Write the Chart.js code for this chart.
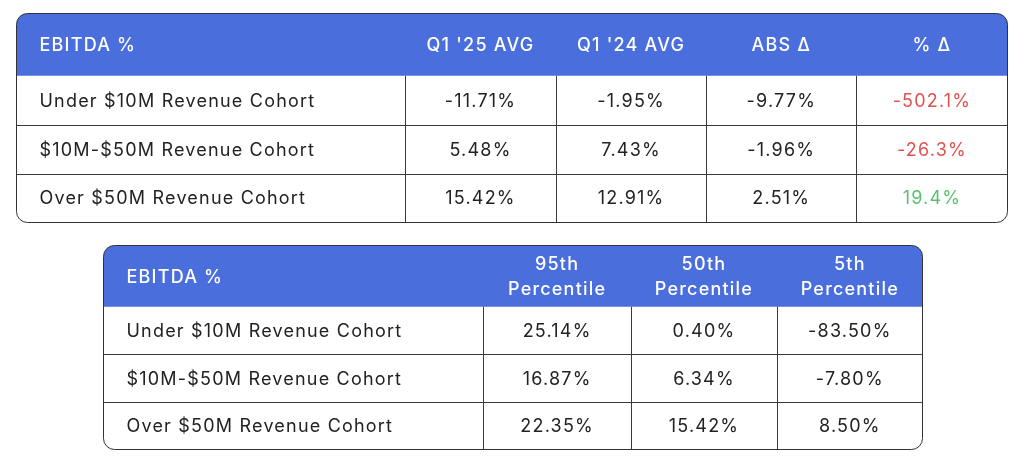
<!DOCTYPE html>
<html><head><meta charset="utf-8">
<script src="https://cdn.jsdelivr.net/npm/chart.js@4"></script>
<style>
html,body{margin:0;background:#fff;width:1024px;height:464px;overflow:hidden}
.w{position:absolute}
</style></head><body>
<div class="w" id="w1" style="left:16px;top:13px;width:992px;height:210px"><canvas id="c1"></canvas></div>
<div class="w" id="w2" style="left:103px;top:245px;width:820px;height:205px"><canvas id="c2"></canvas></div>
<script>
// Table 1
const t1Columns = ["EBITDA %", "Q1 '25 AVG", "Q1 '24 AVG", "ABS Δ", "% Δ"];
const t1Rows = ["Under $10M Revenue Cohort", "$10M-$50M Revenue Cohort", "Over $50M Revenue Cohort"];
const t1Q125 = ["-11.71%", "5.48%", "15.42%"];
const t1Q124 = ["-1.95%", "7.43%", "12.91%"];
const t1Abs = ["-9.77%", "-1.96%", "2.51%"];
const t1Pct = ["-502.1%", "-26.3%", "19.4%"];
// Table 2
const t2Columns = ["EBITDA %", "95th\nPercentile", "50th\nPercentile", "5th\nPercentile"];
const t2Rows = ["Under $10M Revenue Cohort", "$10M-$50M Revenue Cohort", "Over $50M Revenue Cohort"];
const t2P95 = ["25.14%", "16.87%", "22.35%"];
const t2P50 = ["0.40%", "6.34%", "15.42%"];
const t2P5 = ["-83.50%", "-7.80%", "8.50%"];

const BLUE = "#4a6edc", FONT = "Inter, 'Open Sans', sans-serif";

const tablePlugin = {
  id: 'tablePlugin',
  afterDraw(chart) {
    const o = chart.options.plugins.tablePlugin;
    const ctx = chart.ctx, a = chart.chartArea, ys = chart.scales.y;
    const L = a.left + 0.5, R = a.right - 0.5, T = a.top + 0.5, B = a.bottom - 0.5;
    const nRows = ys.ticks.length;
    const hb = T + (B - T) * o.headerFrac;
    const rh = (B - hb) / nRows;
    const rowTop = i => i === 0 ? T : hb + (i - 1) * rh;
    const rowBot = i => i === 0 ? hb : hb + i * rh;
    const n = nRows + 1;
    const tw = o.weights.reduce((s, v) => s + v, 0);
    const edges = [L]; let acc = 0;
    o.weights.forEach(w => { acc += w; edges.push(L + (R - L) * acc / tw); });
    const rad = 11;
    ctx.save();
    ctx.beginPath();
    ctx.moveTo(L, hb); ctx.lineTo(L, T + rad); ctx.arcTo(L, T, L + rad, T, rad);
    ctx.lineTo(R - rad, T); ctx.arcTo(R, T, R, T + rad, rad); ctx.lineTo(R, hb); ctx.closePath();
    ctx.fillStyle = BLUE; ctx.fill();
    ctx.strokeStyle = "#3a3a3a"; ctx.lineWidth = 1;
    for (let i = 1; i < n - 1; i++) { const y = Math.round(rowBot(i)) + 0.5; ctx.beginPath(); ctx.moveTo(L, y); ctx.lineTo(R, y); ctx.stroke(); }
    for (let j = 1; j < edges.length - 1; j++) { const x = Math.round(edges[j]) + 0.5; ctx.beginPath(); ctx.moveTo(x, hb); ctx.lineTo(x, B); ctx.stroke(); }
    ctx.beginPath();
    ctx.moveTo(L + rad, T); ctx.arcTo(R, T, R, B, rad); ctx.arcTo(R, B, L, B, rad);
    ctx.arcTo(L, B, L, T, rad); ctx.arcTo(L, T, R, T, rad); ctx.closePath();
    ctx.strokeStyle = "#333"; ctx.stroke();
    ctx.textBaseline = "middle";
    ctx.letterSpacing = "1.2px";
    for (let i = 0; i < n; i++) {
      const cy = (rowTop(i) + rowBot(i)) / 2;
      o.cells[i].forEach((txt, j) => {
        const lines = String(txt).split("\n");
        ctx.font = (i === 0 ? "500 " : "400 ") + o.size + "px " + FONT;
        ctx.fillStyle = i === 0 ? "#fff" : (o.colors && o.colors[i] && o.colors[i][j]) || "#222";
        let x;
        if (j === 0) { ctx.textAlign = "left"; x = edges[0] + o.pad; }
        else { ctx.textAlign = "center"; x = (edges[j] + edges[j + 1]) / 2; }
        const lh = o.size * 1.35;
        lines.forEach((ln, k) => ctx.fillText(ln, x, cy + (k - (lines.length - 1) / 2) * lh + 1));
      });
    }
    ctx.restore();
  }
};

function makeTable(id, rowLabels, weights, cells, colors, size, pad, headerFrac) {
  new Chart(document.getElementById(id), {
    type: 'bar',
    data: { labels: rowLabels, datasets: [{ data: [] }] },
    options: {
      responsive: true, maintainAspectRatio: false, animation: false,
      layout: { padding: 0 },
      scales: {
        x: { display: false },
        y: { type: 'category', display: false, offset: true, labels: rowLabels }
      },
      plugins: { legend: { display: false }, tooltip: { enabled: false },
        tablePlugin: { weights, cells, colors, size, pad, headerFrac } }
    },
    plugins: [tablePlugin]
  });
}

const red = "#e0524f", green = "#5cbf6e";
const t1Cells = [t1Columns].concat(t1Rows.map((r, i) => [r, t1Q125[i], t1Q124[i], t1Abs[i], t1Pct[i]]));
const t1Colors = [null].concat(t1Pct.map(p => [null, null, null, null, p.startsWith("-") ? red : green]));
makeTable('c1', t1Rows, [388, 151, 150, 150, 151], t1Cells, t1Colors, 18, 23, 62 / 208);

const t2Cells = [t2Columns].concat(t2Rows.map((r, i) => [r, t2P95[i], t2P50[i], t2P5[i]]));
makeTable('c2', t2Rows, [379, 147, 146, 145], t2Cells, null, 18, 23, 61 / 203);
</script>
</body></html>
